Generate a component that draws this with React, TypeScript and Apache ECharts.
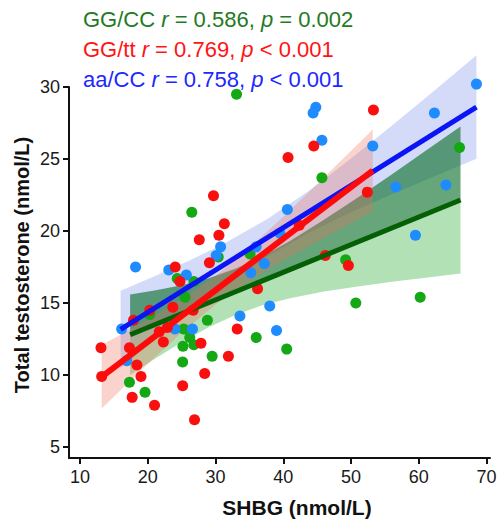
import React, { useEffect, useRef } from "react";
import * as echarts from "echarts";

// ---- data ----
const xTicks = [10, 20, 30, 40, 50, 60, 70];
const yTicks = [5, 10, 15, 20, 25, 30];

const greenPts: number[][] = [
  [33.1, 29.5], [26.5, 21.3], [30.4, 18.2], [35.1, 18.4], [45.7, 23.7], [66.0, 25.8],
  [49.2, 18.0], [50.7, 15.0], [60.2, 15.4], [40.5, 11.8], [24.35, 16.7], [26.8, 16.5],
  [20.3, 14.2], [25.5, 15.4], [28.8, 13.8], [36.0, 12.6], [25.3, 13.2], [26.2, 12.6],
  [26.8, 12.1], [25.2, 12.0], [29.5, 11.3], [25.15, 10.9], [17.3, 9.5], [19.6, 8.8],
];
const redPts: number[][] = [
  [40.7, 25.1], [29.7, 22.45], [31.3, 20.5], [30.5, 19.7], [27.6, 19.4], [29.1, 17.8],
  [24.05, 17.5], [53.3, 28.4], [44.5, 25.9], [52.4, 22.7], [42.35, 20.4], [46.2, 18.3],
  [49.6, 17.6], [24.75, 16.5], [36.2, 16.0], [20.3, 14.5], [17.9, 13.8], [23.7, 14.7],
  [26.7, 14.5], [33.2, 13.2], [21.7, 13.0], [22.9, 13.3], [22.3, 12.3], [27.85, 12.2],
  [31.9, 11.3], [28.4, 10.1], [25.15, 9.25], [26.9, 6.9], [13.1, 11.9], [17.3, 11.9],
  [18.4, 10.7], [13.2, 9.9], [19.0, 9.9], [17.7, 8.45], [21.0, 7.9],
];
const bluePts: number[][] = [
  [40.6, 21.5], [30.75, 18.9], [30.1, 18.3], [18.2, 17.5], [23.1, 17.3], [39.5, 19.85],
  [37.2, 17.75], [68.5, 30.2], [44.8, 28.6], [44.4, 28.2], [62.3, 28.2], [45.7, 26.3],
  [53.2, 25.9], [56.6, 23.05], [64.0, 23.2], [59.5, 19.7], [38.0, 14.8], [39.0, 13.1],
  [25.7, 16.95], [35.2, 17.1], [16.15, 13.2], [33.6, 14.1], [24.0, 13.2], [26.6, 13.2],
  [16.9, 11.0], [36.0, 18.9],
];

// regression lines (end points)
const greenFit: number[][] = [[17.4, 12.8], [66.15, 22.15]];
const redFit: number[][] = [[13.2, 9.88], [53.2, 24.2]];
const blueFit: number[][] = [[16.0, 13.17], [68.5, 28.61]];

// confidence bands
const greenBandX = [17.4, 21, 25, 29, 33, 37, 41, 46, 51, 56, 61, 66.15];
const greenBandMid = [12.8, 13.49, 14.26, 15.02, 15.79, 16.56, 17.32, 18.29, 19.24, 20.2, 21.16, 22.15];
const greenBandUp = [15.6, 15.87, 16.24, 16.72, 17.39, 18.26, 19.3, 20.78, 22.33, 23.93, 25.57, 27.25];
const greenBandLo = [10.0, 11.11, 12.28, 13.32, 14.19, 14.86, 15.34, 15.8, 16.15, 16.47, 16.75, 17.05];

const blueBandX = [16, 21, 26, 31, 37.6, 44, 50, 56, 62, 68.5];
const blueBandUp = [15.85, 16.86, 17.92, 19.06, 20.82, 22.87, 25.04, 27.31, 29.64, 32.21];
const blueBandLo = [10.49, 12.42, 14.3, 16.1, 18.22, 19.93, 21.3, 22.55, 23.74, 25.01];

const redBandX = [13.2, 17, 21, 25, 30.1, 35, 40, 46, 53.2];
const redBandUp = [12.08, 13.06, 14.12, 15.26, 16.93, 18.83, 20.99, 23.72, 27.05];
const redBandLo = [7.68, 9.42, 11.22, 12.94, 14.93, 16.53, 17.95, 19.52, 21.35];

const FONT = "'Liberation Sans', Arial, sans-serif";

function bandSeries(xs: number[], up: number[], lo: number[], fill: string, z: number) {
  return {
    type: "custom",
    silent: true,
    z,
    data: [[xs[0], lo[0]]],
    renderItem: (_params: any, api: any) => {
      const pts: number[][] = [];
      for (let i = 0; i < xs.length; i++) pts.push(api.coord([xs[i], up[i]]));
      for (let i = xs.length - 1; i >= 0; i--) pts.push(api.coord([xs[i], lo[i]]));
      return { type: "polygon", shape: { points: pts }, style: { fill } };
    },
  };
}

function scatter(data: number[][], color: string, z: number) {
  return {
    type: "scatter",
    data,
    symbolSize: 11,
    clip: false,
    z,
    itemStyle: { color, opacity: 1 },
  };
}

function fitLine(data: number[][], color: string, width: number, z: number) {
  return {
    type: "line",
    data,
    showSymbol: false,
    symbol: "none",
    clip: false,
    z,
    lineStyle: { color, width, cap: "butt" },
  };
}

export default function App() {
  const ref = useRef<HTMLDivElement>(null);
  useEffect(() => {
    if (!ref.current) return;
    const chart = echarts.init(ref.current, undefined, { renderer: "svg" });
    const legendRich = (color: string) => ({
      n: { fontFamily: FONT, fontSize: 22, fill: color, color },
      i: { fontFamily: FONT, fontSize: 22, fontStyle: "italic", fill: color, color },
    });
    chart.setOption({
      animation: false,
      backgroundColor: "#ffffff",
      grid: { left: 69, right: 14, top: 87, bottom: 63, containLabel: false },
      xAxis: {
        type: "value",
        min: 8.38,
        max: 70.5,
        splitLine: { show: false },
        axisLine: { show: true, onZero: false, lineStyle: { color: "#111", width: 2 } },
        axisTick: { show: true, length: 6, lineStyle: { color: "#111", width: 2 }, customValues: xTicks },
        axisLabel: {
          customValues: xTicks,
          fontFamily: FONT,
          fontSize: 18,
          color: "#1a1a1a",
          margin: 10,
        },
      },
      yAxis: {
        type: "value",
        min: 4.24,
        max: 30,
        splitLine: { show: false },
        axisLine: { show: true, onZero: false, lineStyle: { color: "#111", width: 2 } },
        axisTick: { show: true, length: 6, lineStyle: { color: "#111", width: 2 }, customValues: yTicks },
        axisLabel: {
          customValues: yTicks,
          fontFamily: FONT,
          fontSize: 18,
          color: "#1a1a1a",
          margin: 9,
        },
      },
      graphic: [
        {
          type: "text",
          x: 83,
          y: 19,
          style: {
            text: "{n|GG/CC }{i|r}{n| = 0.586, }{i|p}{n| = 0.002}",
            rich: legendRich("#237a23"),
            verticalAlign: "middle",
            align: "left",
          },
        },
        {
          type: "text",
          x: 83,
          y: 49,
          style: {
            text: "{n|GG/tt }{i|r}{n| = 0.769, }{i|p}{n| < 0.001}",
            rich: legendRich("#ff1414"),
            verticalAlign: "middle",
            align: "left",
          },
        },
        {
          type: "text",
          x: 83,
          y: 79,
          style: {
            text: "{n|aa/CC }{i|r}{n| = 0.758, }{i|p}{n| < 0.001}",
            rich: legendRich("#1c28ff"),
            verticalAlign: "middle",
            align: "left",
          },
        },
        {
          type: "text",
          x: 297,
          y: 507,
          style: {
            text: "SHBG (nmol/L)",
            font: `bold 21px ${FONT}`,
            fill: "#111",
            align: "center",
            verticalAlign: "middle",
          },
        },
        {
          type: "text",
          x: 22,
          y: 265,
          rotation: Math.PI / 2,
          style: {
            text: "Total testosterone (nmol/L)",
            font: `bold 20px ${FONT}`,
            fill: "#111",
            align: "center",
            verticalAlign: "middle",
          },
        },
      ],
      series: [
        bandSeries(blueBandX, blueBandUp, blueBandLo, "rgba(80,110,230,0.25)", 1),
        bandSeries(greenBandX, greenBandMid, greenBandLo, "rgba(60,180,70,0.4)", 1),
        bandSeries(greenBandX, greenBandUp, greenBandMid, "rgba(10,110,40,0.62)", 1),
        bandSeries(redBandX, redBandUp, redBandLo, "rgba(240,110,90,0.3)", 1),
        scatter(greenPts, "#14a814", 3),
        scatter(bluePts, "#1e8cff", 3),
        scatter(redPts, "#fa0f0f", 3),
        fitLine(greenFit, "#056005", 5, 5),
        fitLine(blueFit, "#0a14f5", 5, 5),
        fitLine(redFit, "#ff0a0a", 6, 5),
      ],
    });
    return () => chart.dispose();
  }, []);
  return (
    <div
      ref={ref}
      style={{ position: "fixed", left: 0, top: 0, width: 504, height: 521, background: "#fff" }}
    />
  );
}
